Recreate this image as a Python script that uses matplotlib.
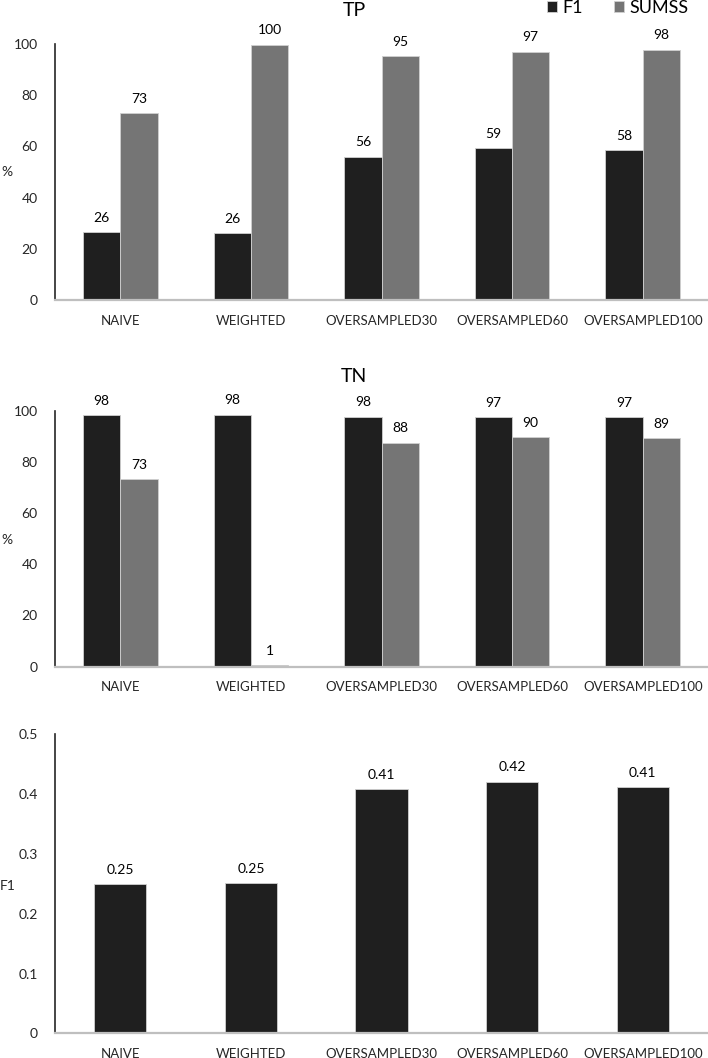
import matplotlib.pyplot as plt
import numpy as np

plt.rcParams['font.family'] = ['Lato', 'DejaVu Sans']

categories = ['NAIVE', 'WEIGHTED', 'OVERSAMPLED30', 'OVERSAMPLED60', 'OVERSAMPLED100']

tp_f1 = [26.5, 26.0, 56.0, 59.2, 58.5]
tp_sumss = [72.9, 99.8, 95.3, 97.0, 97.8]

tn_f1 = [98.3, 98.4, 97.6, 97.4, 97.4]
tn_sumss = [73.3, 0.6, 87.5, 89.6, 89.2]

f1_score = [0.249, 0.251, 0.408, 0.421, 0.412]

DARK = '#1f1f1f'
GREY = '#757575'
EDGE = '#d0d0d0'


def style_axis(ax, ylabel, ylabel_y):
    ax.spines['top'].set_visible(False)
    ax.spines['right'].set_visible(False)
    ax.spines['left'].set_color('#262626')
    ax.spines['left'].set_linewidth(1.2)
    ax.spines['bottom'].set_color('#bfbfbf')
    ax.spines['bottom'].set_linewidth(1.6)
    ax.tick_params(axis='y', length=0, pad=12.5, labelsize=10, labelcolor='#262626')
    ax.tick_params(axis='x', length=0, pad=10.5, labelsize=9.5, labelcolor='#262626')
    ax.set_xlim(-0.5, 4.5)
    ax.set_xticks(np.arange(len(categories)))
    ax.set_xticklabels(categories)
    ax.set_ylabel(ylabel, rotation=0, ha='left', va='center', fontsize=10, color='#262626')
    ax.yaxis.set_label_coords(-0.082, ylabel_y)


def label_bars(ax, bars, fmt):
    for b in bars:
        ax.annotate(fmt(b.get_height()), (b.get_x() + b.get_width() / 2, b.get_height()),
                    xytext=(0, 6), textcoords='offset points', ha='center', va='bottom',
                    fontsize=10, color='#000000')


fig = plt.figure(figsize=(7.08, 10.58), dpi=100)
x = np.arange(len(categories))
w = 0.285

# TP
ax1 = fig.add_axes([0.0777, 0.7164, 0.9223, 0.242])
b1 = ax1.bar(x - w / 2, tp_f1, w, color=DARK, edgecolor=EDGE, linewidth=0.6, label='F1')
b2 = ax1.bar(x + w / 2, tp_sumss, w, color=GREY, edgecolor=EDGE, linewidth=0.6, label='SUMSS')
ax1.set_ylim(0, 100)
ax1.set_yticks(range(0, 101, 20))
style_axis(ax1, '%', 0.5)
label_bars(ax1, b1, lambda v: '%d' % round(v))
label_bars(ax1, b2, lambda v: '%d' % round(v))
fig.text(0.5, 1 - 10 / 1058, 'TP', ha='center', va='center', fontsize=14)
fig.legend(handles=[b1, b2], loc='upper left', bbox_to_anchor=(547 / 708, 1.0),
           ncol=2, frameon=False, fontsize=13, handlelength=0.55, handleheight=0.55,
           handletextpad=0.28, columnspacing=1.75, borderpad=0, borderaxespad=0)

# TN
ax2 = fig.add_axes([0.0777, 0.370, 0.9223, 0.242])
b3 = ax2.bar(x - w / 2, tn_f1, w, color=DARK, edgecolor=EDGE, linewidth=0.6)
b4 = ax2.bar(x + w / 2, tn_sumss, w, color=GREY, edgecolor=EDGE, linewidth=0.6)
ax2.set_ylim(0, 100)
ax2.set_yticks(range(0, 101, 20))
style_axis(ax2, '%', 0.495)
label_bars(ax2, b3, lambda v: '%d' % round(v))
label_bars(ax2, b4, lambda v: '%d' % round(v))
fig.text(0.5, 1 - 376 / 1058, 'TN', ha='center', va='center', fontsize=14)

# F1 score
ax3 = fig.add_axes([0.0777, 0.0233, 0.9223, 0.2826])
b5 = ax3.bar(x, f1_score, 0.4, color=DARK, edgecolor=EDGE, linewidth=0.6)
ax3.set_ylim(0, 0.5)
ax3.set_yticks([0, 0.1, 0.2, 0.3, 0.4, 0.5])
ax3.set_yticklabels(['0', '0.1', '0.2', '0.3', '0.4', '0.5'])
style_axis(ax3, 'F1', 0.494)
ax3.yaxis.set_label_coords(-0.084, 0.494)
label_bars(ax3, b5, lambda v: '%.2f' % v)

fig.savefig('out.png', dpi=100)
